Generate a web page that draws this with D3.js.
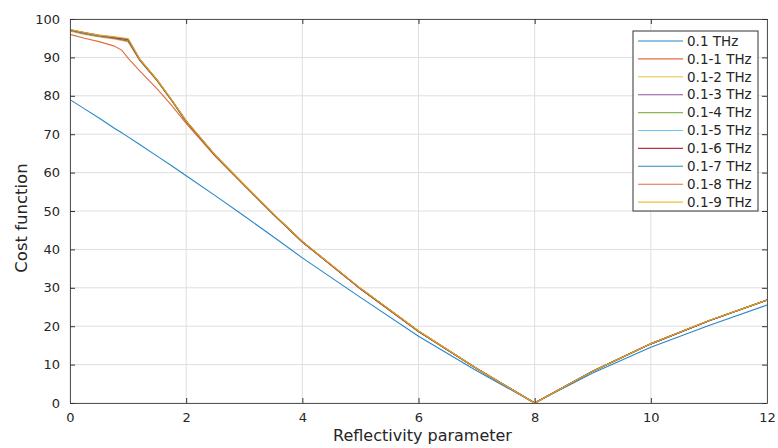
<!DOCTYPE html>
<html>
<head>
<meta charset="utf-8">
<script src="https://cdn.jsdelivr.net/npm/d3@7"></script>
<style>
  body { margin: 0; background: #fff; }
  svg text { font-family: "DejaVu Sans", sans-serif; fill: #262626; }
</style>
</head>
<body>
<svg id="chart" width="778" height="448"></svg>
<script>
// sample positions on the reflectivity axis
var xs = [0, 0.25, 0.5, 0.75, 0.89, 1.0, 1.2, 1.5, 1.75, 2, 2.5, 3, 3.5, 4, 5, 6, 7, 8, 9, 10, 11, 12];

var seriesNames = ['0.1 THz', '0.1-1 THz', '0.1-2 THz', '0.1-3 THz', '0.1-4 THz',
  '0.1-5 THz', '0.1-6 THz', '0.1-7 THz', '0.1-8 THz', '0.1-9 THz'];

var colors = ['#0072BD', '#D95319', '#EDB120', '#7E2F8E', '#77AC30',
  '#4DBEEE', '#A2142F', '#0072BD', '#D95319', '#EDB120'];

var s01 = [79.0, 76.6, 74.2, 71.7, 70.4, 69.3, 67.3, 64.3, 61.8, 59.2, 54.0, 48.7, 43.3, 37.8, 27.5, 17.4, 8.4, 0, 7.8, 14.5, 20.2, 25.5];
var s1 = [96.0, 95.0, 94.1, 93.0, 91.9, 89.8, 86.5, 81.8, 77.5, 72.8, 64.2, 56.6, 49.1, 41.9, 29.7, 18.6, 9.0, 0, 8.3, 15.4, 21.4, 26.8];
var s2 = [96.8, 96.0, 95.3, 94.8, 94.4, 94.0, 89.2, 83.9, 78.7, 73.2, 64.4, 56.7, 49.2, 42.0, 29.8, 18.7, 9.0, 0, 8.3, 15.4, 21.4, 26.8];
var s3 = [97.0, 96.2, 95.5, 95.0, 94.6, 94.3, 89.3, 84.0, 78.8, 73.3, 64.5, 56.8, 49.2, 42.0, 29.8, 18.7, 9.0, 0, 8.3, 15.4, 21.4, 26.8];
var s4 = [97.1, 96.3, 95.6, 95.1, 94.8, 94.5, 89.4, 84.0, 78.8, 73.3, 64.5, 56.8, 49.2, 42.0, 29.8, 18.7, 9.0, 0, 8.3, 15.4, 21.4, 26.8];
var s5 = [97.1, 96.3, 95.6, 95.2, 94.9, 94.6, 89.4, 84.0, 78.8, 73.3, 64.5, 56.8, 49.2, 42.0, 29.8, 18.7, 9.0, 0, 8.3, 15.4, 21.4, 26.8];
var s6 = [97.2, 96.4, 95.7, 95.2, 94.9, 94.7, 89.5, 84.1, 78.9, 73.4, 64.5, 56.8, 49.2, 42.0, 29.8, 18.7, 9.0, 0, 8.3, 15.4, 21.4, 26.8];
var s7 = [97.2, 96.4, 95.7, 95.3, 95.0, 94.8, 89.5, 84.1, 78.9, 73.4, 64.5, 56.8, 49.2, 42.0, 29.8, 18.7, 9.0, 0, 8.3, 15.4, 21.4, 26.8];
var s8 = [97.2, 96.5, 95.8, 95.3, 95.0, 94.8, 89.5, 84.1, 78.9, 73.4, 64.5, 56.8, 49.2, 42.0, 29.8, 18.7, 9.0, 0, 8.3, 15.4, 21.4, 26.8];
var s9 = [97.3, 96.5, 95.8, 95.4, 95.1, 94.9, 89.6, 84.2, 79.0, 73.5, 64.6, 56.9, 49.3, 42.1, 29.9, 18.8, 9.0, 0, 8.3, 15.4, 21.5, 26.8];

var series = [s01, s1, s2, s3, s4, s5, s6, s7, s8, s9];

var xTicks = [0, 2, 4, 6, 8, 10, 12];
var yTicks = [0, 10, 20, 30, 40, 50, 60, 70, 80, 90, 100];

var svg = d3.select('#chart'),
    margin = {left: 70, top: 19, right: 11, bottom: 45},
    W = 778 - margin.left - margin.right,
    H = 448 - margin.top - margin.bottom;

var x = d3.scaleLinear().domain([0, 12]).range([0, W]);
var y = d3.scaleLinear().domain([0, 100]).range([H, 0]);

var g = svg.append('g').attr('transform', 'translate(' + margin.left + ',' + margin.top + ')');

// grid
g.append('g').selectAll('line').data(xTicks).enter().append('line')
  .attr('x1', x).attr('x2', x).attr('y1', 0).attr('y2', H)
  .attr('stroke', '#dfdfdf').attr('stroke-width', 1);
g.append('g').selectAll('line').data(yTicks).enter().append('line')
  .attr('y1', y).attr('y2', y).attr('x1', 0).attr('x2', W)
  .attr('stroke', '#dfdfdf').attr('stroke-width', 1);

// lines
var line = d3.line()
  .x(function(d, i) {return x(xs[i]);})
  .y(function(d) {return y(d);});

g.append('g').selectAll('path').data(series).enter().append('path')
  .attr('d', line)
  .attr('fill', 'none')
  .attr('stroke', function(d, i) {return colors[i];})
  .attr('stroke-opacity', 0.85)
  .attr('stroke-width', 1.1);

// axes, MATLAB style: ticks inward on all four sides
function styleAxis(sel) {
  sel.select('.domain').attr('stroke', '#555');
  sel.selectAll('.tick line').attr('stroke', '#333');
  sel.selectAll('.tick text').style('font-size', '13px').attr('fill', '#262626');
}
g.append('g').attr('transform', 'translate(0,' + H + ')')
  .call(d3.axisBottom(x).tickValues(xTicks).tickSizeInner(-5).tickSizeOuter(0).tickPadding(10))
  .call(styleAxis);
g.append('g')
  .call(d3.axisTop(x).tickValues(xTicks).tickSizeInner(-5).tickSizeOuter(0).tickFormat(''))
  .call(styleAxis);
g.append('g')
  .call(d3.axisLeft(y).tickValues(yTicks).tickSizeInner(-5).tickSizeOuter(0).tickPadding(10))
  .call(styleAxis);
g.append('g').attr('transform', 'translate(' + W + ',0)')
  .call(d3.axisRight(y).tickValues(yTicks).tickSizeInner(-5).tickSizeOuter(0).tickFormat(''))
  .call(styleAxis);

// axis labels
svg.append('text')
  .attr('x', margin.left + W / 2 + 4).attr('y', 441)
  .attr('text-anchor', 'middle')
  .style('font-size', '16px')
  .text('Reflectivity parameter');
svg.append('text')
  .attr('transform', 'translate(27,' + (margin.top + H / 2 + 7) + ')rotate(-90)')
  .attr('text-anchor', 'middle')
  .style('font-size', '16.5px')
  .text('Cost function');

// legend
var lg = svg.append('g').attr('transform', 'translate(633,31)');
lg.append('rect')
  .attr('width', 125).attr('height', 180)
  .attr('fill', '#fff').attr('stroke', '#333').attr('stroke-width', 1);
var items = lg.selectAll('.item').data(seriesNames).enter().append('g')
  .attr('class', 'item')
  .attr('transform', function(d, i) {return 'translate(0,' + (10 + i * 17.9) + ')';});
items.append('line')
  .attr('x1', 5).attr('x2', 50)
  .attr('stroke', function(d, i) {return colors[i];})
  .attr('stroke-opacity', 0.85)
  .attr('stroke-width', 1.1);
items.append('text')
  .attr('x', 54).attr('dy', '0.35em')
  .style('font-size', '13.5px')
  .text(function(d) {return d;});
</script>
</body>
</html>
